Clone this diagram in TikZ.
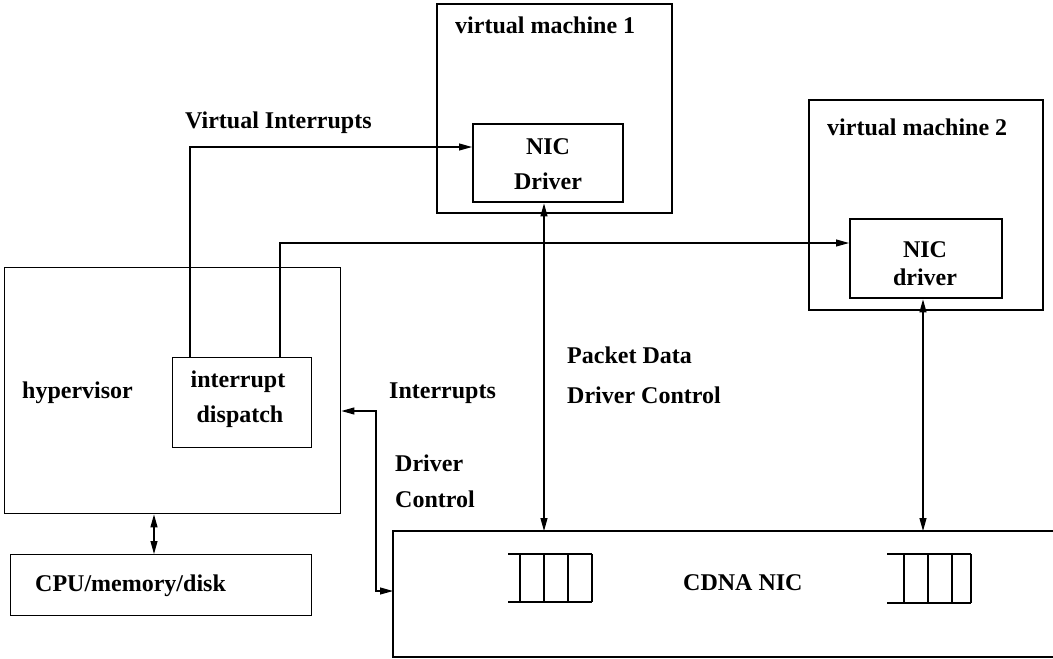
\documentclass[tikz,border=0pt]{standalone}
\usepackage{fontspec}
\setmainfont{Liberation Serif}
\usetikzlibrary{arrows.meta}
\begin{document}
\begin{tikzpicture}[x=1pt,y=-1pt,
  heavy/.style={draw, line width=2.4pt, inner sep=0pt, anchor=north west},
  light/.style={draw, line width=1.4pt, inner sep=0pt, anchor=north west},
  lbl/.style={font=\fontsize{24}{28}\selectfont\bfseries, inner sep=0pt, anchor=base west},
  clbl/.style={font=\fontsize{24}{28}\selectfont\bfseries, inner sep=0pt, anchor=base},
  link/.style={line width=1.1pt},
  queue/.style={line width=1.2pt},
  >={Triangle[length=13pt,width=7pt]}]
\useasboundingbox (0,0) rectangle (1053,659);

% virtual machines and their drivers
\node[heavy, minimum width=235pt, minimum height=209pt] (vm1) at (436,3) {};
\node[heavy, minimum width=150pt, minimum height=78pt] (nic1) at (472,123) {};
\node[heavy, minimum width=234pt, minimum height=210pt] (vm2) at (808,99) {};
\node[heavy, minimum width=152pt, minimum height=79pt] (nic2) at (849,218) {};

% hypervisor side
\node[light, minimum width=336pt, minimum height=246pt] (hyp) at (4,267) {};
\node[light, minimum width=139pt, minimum height=90pt] (disp) at (172,357) {};
\node[light, minimum width=301pt, minimum height=61pt] (cpu) at (10,554) {};

% the NIC, open towards the right
\coordinate (cdnaNW) at (393,531);
\coordinate (cdnaSW) at (393,657);
\draw[light] (1053,531) -- (cdnaNW) -- (cdnaSW) -- (1053,657);

% transmit/receive queues
\draw[queue] (508,554) -- (592,554) (508,602) -- (592,602)
  (520,554) -- (520,602) (544,554) -- (544,602)
  (568,554) -- (568,602) (592,554) -- (592,602);
\draw[queue] (887,554) -- (971,554) (887,603) -- (971,603)
  (904,554) -- (904,603) (928,554) -- (928,603)
  (952,554) -- (952,603) (971,554) -- (971,603);

% labels
\node[lbl] (tvm1) at (455,33) {virtual machine 1};
\node[clbl] (tnic1a) at (548,154) {NIC};
\node[clbl] (tnic1b) at (548,189) {Driver};
\node[lbl] (tvm2) at (827,135) {virtual machine 2};
\node[clbl] (tnic2a) at (925,257) {NIC};
\node[clbl] (tnic2b) at (925,285) {driver};
\node[lbl] (tvi) at (185,128) {Virtual Interrupts};
\node[lbl] (thyp) at (22,398) {hypervisor};
\node[clbl] (tdispa) at (238,387) {interrupt};
\node[clbl] (tdispb) at (240,422) {dispatch};
\node[lbl] (tcpu) at (35,591) {CPU/memory/disk};
\node[lbl] (tint) at (389,398) {Interrupts};
\node[lbl] (tdc1) at (395,471) {Driver};
\node[lbl] (tdc2) at (395,507) {Control};
\node[lbl] (tpd) at (567,363) {Packet Data};
\node[lbl] (tdc) at (567,403) {Driver Control};
\node[lbl] (tcdna) at (683,590) {CDNA NIC};

% routing columns and rows
\coordinate (c154) at (154,0);
\coordinate (c190) at (190,0);
\coordinate (c280) at (280,0);
\coordinate (c376) at (376,0);
\coordinate (c544) at (544,0);
\coordinate (c923) at (923,0);
\coordinate (r147) at (0,147);
\coordinate (r243) at (0,243);
\coordinate (r411) at (0,411);
\coordinate (r591) at (0,591);

% connectors
\draw[link,<->] (hyp.south -| c154) -- (cpu.north -| c154);
\draw[link,->] (disp.north -| c190) |- (nic1.west |- r147);
\draw[link,->] (disp.north -| c280) |- (nic2.west |- r243);
\draw[link,<->] (hyp.east |- r411) -| (c376 |- r591) -- (cdnaNW |- r591);
\draw[link,<->] (cdnaNW -| c544) -- (nic1.south -| c544);
\draw[link,<->] (cdnaNW -| c923) -- (nic2.south -| c923);
\end{tikzpicture}
\end{document}
